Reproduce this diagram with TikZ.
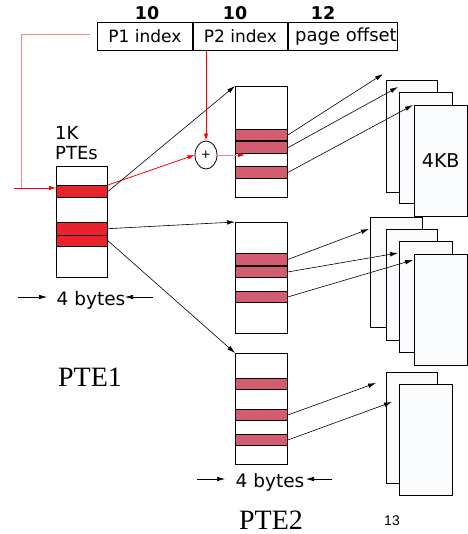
\documentclass[tikz,border=0pt]{standalone}
\usepackage{fontspec}
\setmainfont{DejaVu Sans}
\newfontfamily\serifface{Liberation Serif}
\newfontfamily\arialface{Liberation Sans}
\usetikzlibrary{arrows.meta,shapes.geometric}
\definecolor{pteRed}{RGB}{232,35,45}
\definecolor{pteRose}{RGB}{212,92,112}
\definecolor{pinkLine}{RGB}{242,140,140}
\definecolor{frameFill}{RGB}{249,251,253}
\begin{document}
\begin{tikzpicture}[x=1pt,y=-1pt,
  field/.style={draw,line width=0.9pt,anchor=north west,minimum height=28pt,inner sep=0pt,font=\fontsize{17}{20}\selectfont},
  num/.style={font=\bfseries\fontsize{17.5}{20}\selectfont,inner sep=0pt},
  tbl/.style={draw,line width=0.9pt,fill=white,anchor=north west,inner sep=0pt,minimum width=51pt,minimum height=111pt},
  bandA/.style={draw,line width=0.9pt,fill=pteRed,anchor=north west,inner sep=0pt,minimum width=51pt},
  bandB/.style={draw,line width=0.9pt,fill=pteRose,anchor=north west,inner sep=0pt,minimum width=52pt},
  frame/.style={draw,line width=0.9pt,fill=frameFill,anchor=north west,inner sep=0pt},
  arr/.style={line width=0.6pt,-{Latex[length=8pt,width=4.5pt]}},
  redarr/.style={red,line width=0.8pt,-{Latex[length=7pt,width=4.5pt]}},
  lbl/.style={font=\fontsize{17}{20}\selectfont,inner sep=0pt},
  bytes/.style={font=\fontsize{18.5}{20}\selectfont,inner sep=0pt}
]
\useasboundingbox (0,0) rectangle (467,534);

% address fields
\node[field,minimum width=95pt] (p1) at (97,22) {P1 index};
\node[field,minimum width=94pt] (p2) at (193,22) {P2 index};
\node[field,minimum width=109pt] (off) at (288,22) {};
\node[lbl,anchor=west,font=\fontsize{18}{20}\selectfont] (offtxt) at (295,37) {page offset};
\node[num] (n1) at (147,13) {10};
\node[num] (n2) at (235,13) {10};
\node[num] (n3) at (323,13) {12};

% PTE1 table
\node[tbl] (t1) at (56,166) {};
\node[bandA,minimum height=12pt] (b11) at (56,185) {};
\node[bandA,minimum height=12.5pt] (b12) at (56,222) {};
\node[bandA,minimum height=11.5pt] (b13) at (56,234.5) {};
\node[lbl,anchor=north west,align=left,font=\fontsize{18}{20.5}\selectfont] (k1) at (55,126) {1K\\PTEs};

% PTE2 tables
\node[tbl,minimum width=52pt] (ta) at (235,86) {};
\node[bandB,minimum height=11pt] (ba1) at (235,129) {};
\node[bandB,minimum height=11.5pt] (ba2) at (235,141.5) {};
\node[bandB,minimum height=12pt] (ba3) at (235,166) {};

\node[tbl,minimum width=52pt] (tb) at (235,222) {};
\node[bandB,minimum height=12pt] (bb1) at (235,253) {};
\node[bandB,minimum height=11pt] (bb2) at (235,266) {};
\node[bandB,minimum height=11pt] (bb3) at (235,291) {};

\node[tbl,minimum width=52pt] (tc) at (235,353) {};
\node[bandB,minimum height=11pt] (bc1) at (235,378) {};
\node[bandB,minimum height=11pt] (bc2) at (235,409) {};
\node[bandB,minimum height=11pt] (bc3) at (235,434) {};

% page frames
\node[frame,minimum width=51pt,minimum height=112pt] (f11) at (386,80) {};
\node[frame,minimum width=53pt,minimum height=111pt] (f12) at (399,92) {};
\node[frame,minimum width=52.5pt,minimum height=111pt,font=\fontsize{19}{22}\selectfont] (f13) at (414,105) {4KB};

\node[frame,minimum width=52pt,minimum height=110pt] (f21) at (370,217) {};
\node[frame,minimum width=51pt,minimum height=111pt] (f22) at (386,229) {};
\node[frame,minimum width=53pt,minimum height=111pt] (f23) at (399,241) {};
\node[frame,minimum width=52.5pt,minimum height=111pt] (f24) at (414,254) {};

\node[frame,minimum width=51pt,minimum height=111pt] (f31) at (386,372) {};
\node[frame,minimum width=53pt,minimum height=111pt] (f32) at (399,384) {};

% adder
\node[draw,ellipse,line width=0.8pt,minimum width=22pt,minimum height=28pt,inner sep=0pt,font=\fontsize{12}{12}\selectfont] (plus) at (206,155) {+};

% labels
\node[bytes] (by1) at (91,300) {4 bytes};
\node[bytes] (by2) at (270,482) {4 bytes};
\node[font=\serifface\fontsize{28}{30}\selectfont,inner sep=0pt] (pte1) at (90,377) {PTE1};
\node[font=\serifface\fontsize{28}{30}\selectfont,inner sep=0pt] (pte2) at (271,520) {PTE2};
\node[font=\arialface\fontsize{14}{16}\selectfont,inner sep=0pt] (pg) at (392,521) {13};

% coordinates for free ends
\coordinate (p1tap) at (90,34);
\coordinate (lcorner) at (21,188);
\coordinate (lstart) at (14,188);
\coordinate (t1in) at (56,188);
\coordinate (p2tap) at (206,50);
\coordinate (tain) at (245,155);
\coordinate (e11) at (383,74);
\coordinate (e12) at (398,87);
\coordinate (e13) at (413,105);
\coordinate (e21) at (369,229);
\coordinate (e22) at (398,253);
\coordinate (e23) at (413,260);
\coordinate (e31) at (376,383);
\coordinate (e32) at (392,402);
\coordinate (w1a) at (18,297);
\coordinate (w1b) at (47,297);
\coordinate (w1c) at (153,297);
\coordinate (w1d) at (125,297);
\coordinate (w2a) at (197,479);
\coordinate (w2b) at (225,479);
\coordinate (w2c) at (332,479);
\coordinate (w2d) at (306,479);

% red paths
\draw[pinkLine,line width=0.8pt] (p1tap) -| (lcorner);
\draw[redarr] (lstart) -- (t1in);
\draw[redarr] (p2tap) -- (plus.north);
\draw[redarr] (b11.north east) -- (plus.west);
\draw[pinkLine,line width=0.8pt,-{Latex[length=7pt,width=4.5pt,color=red]}] (plus.east) -- (tain);

% PTE1 -> PTE2
\draw[arr] (b11.east) -- (ta.north west);
\draw[arr] (b12.east) -- (tb.north west);
\draw[arr] (b13.east) -- (tc.north west);

% PTE2 -> frames
\draw[arr] (ba1.east) -- (e11);
\draw[arr] (ba2.east) -- (e12);
\draw[arr] (ba3.east) -- (e13);
\draw[arr] (bb1.east) -- (e21);
\draw[arr] (bb2.east) -- (e22);
\draw[arr] (bb3.east) -- (e23);
\draw[arr] (bc2.east) -- (e31);
\draw[arr] (bc3.east) -- (e32);

% width arrows
\draw[arr] (w1a) -- (w1b);
\draw[arr] (w1c) -- (w1d);
\draw[arr] (w2a) -- (w2b);
\draw[arr] (w2c) -- (w2d);
\end{tikzpicture}
\end{document}
